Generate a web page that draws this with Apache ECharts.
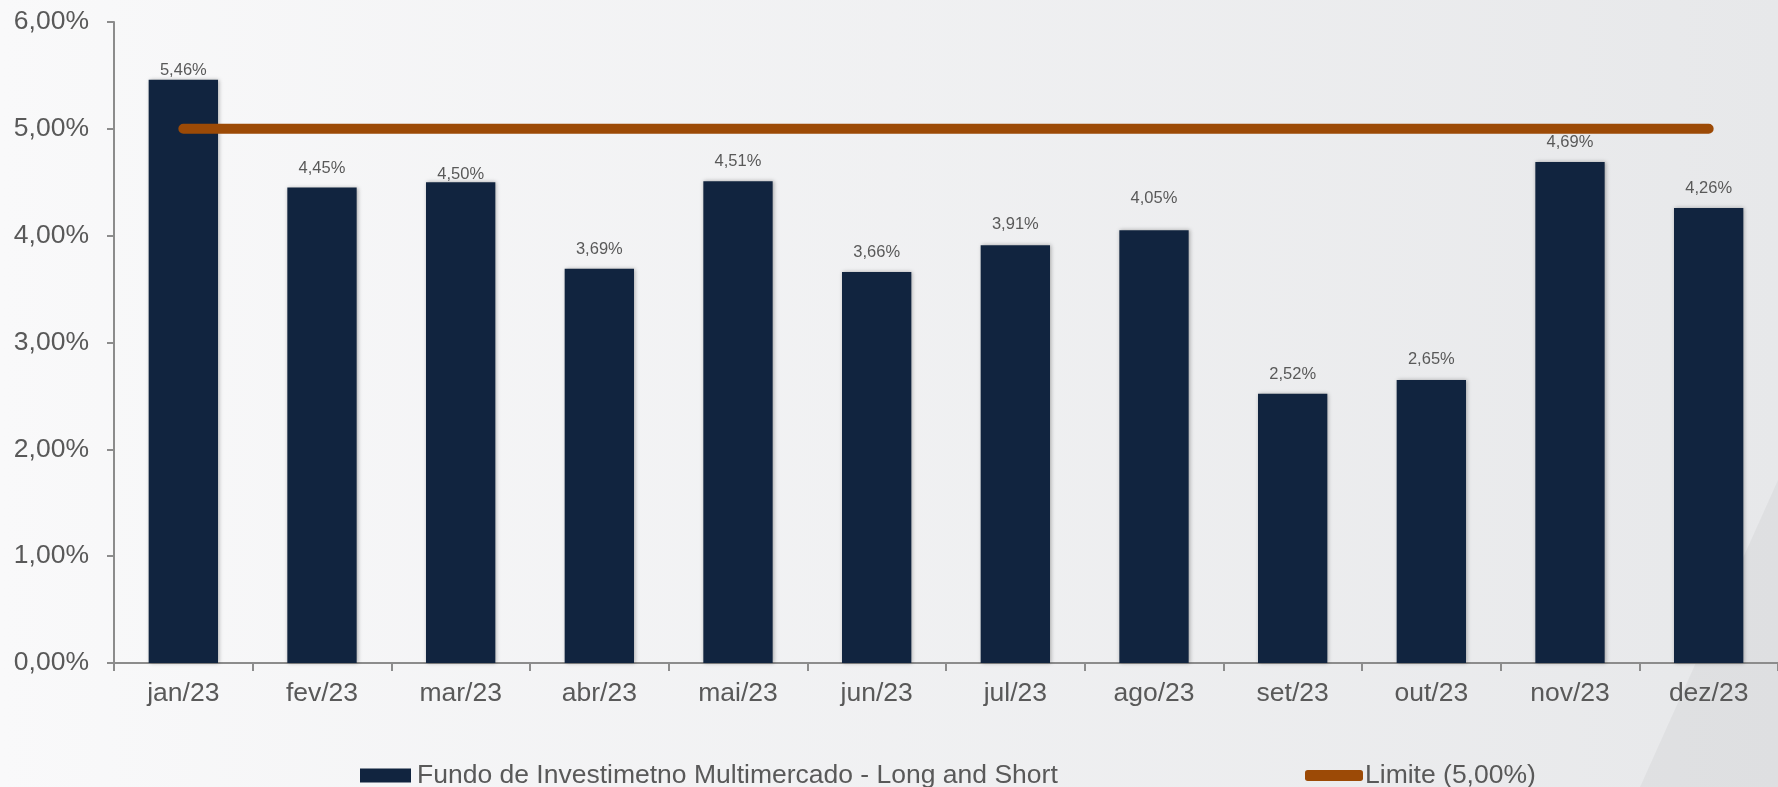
<!DOCTYPE html>
<html>
<head>
<meta charset="utf-8">
<script src="https://cdn.jsdelivr.net/npm/echarts@6/dist/echarts.min.js"></script>
<style>
html,body{margin:0;padding:0;}
#c{width:1778px;height:787px;}
</style>
</head>
<body>
<div id="c"></div>
<script>
const categories = ['jan/23','fev/23','mar/23','abr/23','mai/23','jun/23','jul/23','ago/23','set/23','out/23','nov/23','dez/23'];
const fundValues = [5.46, 4.45, 4.50, 3.69, 4.51, 3.66, 3.91, 4.05, 2.52, 2.65, 4.69, 4.26];
const limitValues = [5.00, 5.00, 5.00, 5.00, 5.00, 5.00, 5.00, 5.00, 5.00, 5.00, 5.00, 5.00];
const fundName = 'Fundo de Investimetno Multimercado - Long and Short';
const limitName = 'Limite (5,00%)';

// label placement (style): gap between bar top and its value label, in px
const labelGap = [1, 11, -1, 11, 11, 11, 12, 23, 11, 12, 11, 11];

const fmt = v => Number(v).toFixed(2).replace('.', ',') + '%';
const FONT = '"Liberation Sans", Arial, sans-serif';
const GRAY = '#595959';

const barData = fundValues.map((v, i) => ({value: v, label: {distance: labelGap[i]}}));

const chart = echarts.init(document.getElementById('c'), null, {renderer: 'canvas'});
chart.setOption({
  animation: false,
  backgroundColor: {
    type: 'linear', x: 0, y: 0, x2: 1, y2: 0,
    colorStops: [{offset: 0, color: '#F9F9FA'}, {offset: 1, color: '#E7E8EA'}]
  },
  graphic: [{
    type: 'polygon',
    silent: true,
    z: -10,
    shape: {points: [[1778, 480], [1778, 787], [1640, 787]]},
    style: {fill: 'rgba(0,0,0,0.035)'}
  }],
  grid: {left: 114, right: 0, top: 22, bottom: 124, containLabel: false},
  legend: [{
    data: [fundName],
    left: 355, top: 757,
    icon: 'rect', itemWidth: 51, itemHeight: 14, itemGap: 0,
    textStyle: {fontFamily: FONT, fontSize: 26.5, color: GRAY, padding: [0, 0, 0, 1]}
  }, {
    data: [limitName],
    left: 1300, top: 757,
    icon: 'roundRect', itemWidth: 58, itemHeight: 11, itemGap: 0,
    textStyle: {fontFamily: FONT, fontSize: 26.5, color: GRAY, padding: [0, 0, 0, -3]}
  }],
  xAxis: {
    type: 'category',
    data: categories,
    boundaryGap: true,
    axisLine: {show: true, lineStyle: {color: '#8C8C8C', width: 2}},
    axisTick: {show: true, length: 8, alignWithLabel: false, lineStyle: {color: '#8C8C8C', width: 2}},
    axisLabel: {fontFamily: FONT, fontSize: 26.5, color: GRAY, margin: 17}
  },
  yAxis: {
    type: 'value',
    min: 0, max: 6, interval: 1,
    axisLine: {show: true, lineStyle: {color: '#8C8C8C', width: 2}},
    axisTick: {show: true, length: 7, lineStyle: {color: '#8C8C8C', width: 2}},
    splitLine: {show: false},
    axisLabel: {fontFamily: FONT, fontSize: 26.5, color: GRAY, margin: 25, formatter: v => fmt(v)}
  },
  series: [{
    name: fundName,
    type: 'bar',
    data: barData,
    barWidth: '50%',
    itemStyle: {
      color: '#11243F',
      shadowColor: 'rgba(0,0,0,0.3)', shadowBlur: 4, shadowOffsetX: 1, shadowOffsetY: 0
    },
    label: {
      show: true, position: 'top', distance: 12,
      fontFamily: FONT, fontSize: 16.5, color: GRAY,
      formatter: p => fmt(p.value)
    },
    z: 2
  }, {
    name: limitName,
    type: 'line',
    data: limitValues,
    symbol: 'none',
    showSymbol: false,
    lineStyle: {color: '#9C4A06', width: 10, cap: 'round'},
    itemStyle: {color: '#9C4A06'},
    z: 3
  }]
});
</script>
</body>
</html>
